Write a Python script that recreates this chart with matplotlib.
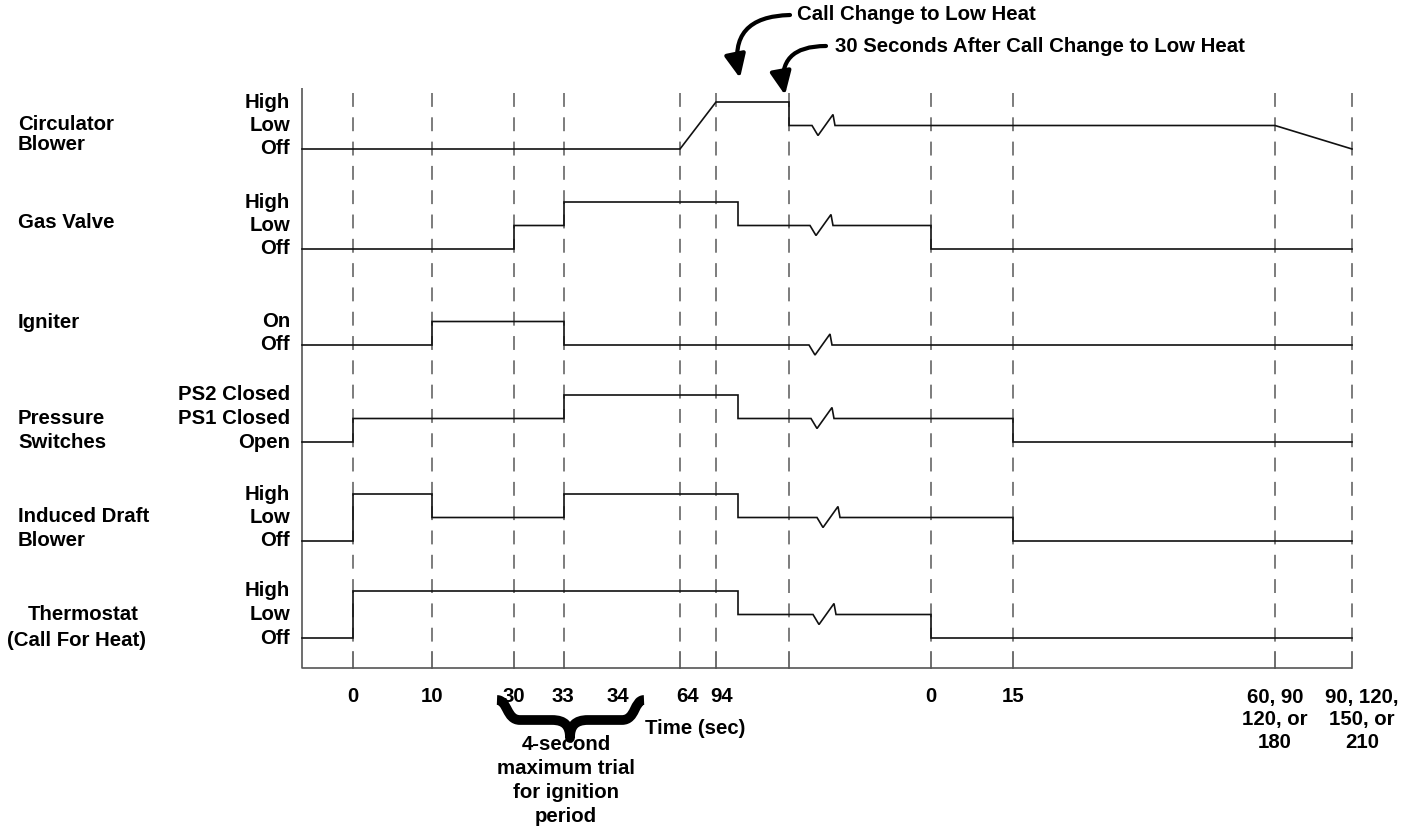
import matplotlib
matplotlib.use("Agg")
import matplotlib.pyplot as plt
from matplotlib.path import Path
from matplotlib.patches import PathPatch

# ---------------- data ----------------
rows = ["Circulator Blower", "Gas Valve", "Igniter", "Pressure Switches",
        "Induced Draft Blower", "Thermostat"]
row_label_lines = [["Circulator", "Blower"], ["Gas Valve"], ["Igniter"],
                   ["Pressure", "Switches"], ["Induced Draft", "Blower"],
                   ["Thermostat", "(Call For Heat)"]]
level_names = [["Off", "Low", "High"], ["Off", "Low", "High"], ["Off", "On"],
               ["Open", "PS1 Closed", "PS2 Closed"], ["Off", "Low", "High"],
               ["Off", "Low", "High"]]

# events along the (non-linear) time axis
events = ["start", "t0", "t10", "t30", "t33", "t64", "t94", "call", "after30",
          "t0b", "t15", "tA", "tB"]
dashed_events = ["t0", "t10", "t30", "t33", "t64", "t94", "after30", "t0b",
                 "t15", "tA", "tB"]
tick_labels = ["0", "10", "30", "33", "34", "64", "94", "0", "15",
               "60, 90\n120, or\n180", "90, 120,\n150, or\n210"]

# waveforms: (event, level); "BRK" marks the time-break zigzag
waves = [
    [("start", 0), ("t64", 0), ("t94", 2), ("after30", 2), ("after30", 1), "BRK",
     ("tA", 1), ("tB", 0)],
    [("start", 0), ("t30", 0), ("t30", 1), ("t33", 1), ("t33", 2), ("call", 2),
     ("call", 1), "BRK", ("t0b", 1), ("t0b", 0), ("tB", 0)],
    [("start", 0), ("t10", 0), ("t10", 1), ("t33", 1), ("t33", 0), "BRK", ("tB", 0)],
    [("start", 0), ("t0", 0), ("t0", 1), ("t33", 1), ("t33", 2), ("call", 2),
     ("call", 1), "BRK", ("t15", 1), ("t15", 0), ("tB", 0)],
    [("start", 0), ("t0", 0), ("t0", 2), ("t10", 2), ("t10", 1), ("t33", 1),
     ("t33", 2), ("call", 2), ("call", 1), "BRK", ("t15", 1), ("t15", 0), ("tB", 0)],
    [("start", 0), ("t0", 0), ("t0", 2), ("call", 2), ("call", 1), "BRK",
     ("t0b", 1), ("t0b", 0), ("tB", 0)],
]

# ---------------- layout ----------------
event_x = dict(zip(events, [302, 353, 432, 514, 564, 680, 716, 738, 789, 931,
                            1013, 1275, 1352]))
tick_label_x = [353, 432, 514, 563, 618, 688, 722, 931, 1013, 1275, 1362]
row_base = [149, 249, 345, 442, 541, 638]
level_step = 23.5
break_x = [812, 810, 809, 811, 817, 813]
row_label_pos = [[(18, 125), (18, 145)], [(18, 222)], [(18, 322)],
                 [(18, 418), (18, 443)], [(18, 517), (18, 540)],
                 [(28, 615), (7, 640)]]

FONT = dict(family="Liberation Sans", fontweight="bold", fontsize=14.7, color="black")
plt.rcParams["lines.scale_dashes"] = False

fig = plt.figure(figsize=(14.14, 8.27), dpi=100)
ax = fig.add_axes([0, 0, 1, 1])
ax.set_xlim(0, 1414)
ax.set_ylim(827, 0)
ax.axis("off")

axis_top, axis_bottom = 88, 668
grey = "#555555"
# frame
ax.plot([302, 302, event_x["tB"]], [axis_top, axis_bottom, axis_bottom],
        color=grey, lw=1.2, solid_capstyle="butt")
for ev in dashed_events:
    x = event_x[ev]
    ax.plot([x, x], [652, axis_bottom], color=grey, lw=1.2)
    ax.plot([x, x], [93, 652], color="#666666", lw=1.2, dashes=(10, 7.5))

# waveforms
for i, wave in enumerate(waves):
    base = row_base[i]
    xs, ys = [], []
    for item in wave:
        if item == "BRK":
            y = ys[-1]
            x0 = break_x[i]
            xs += [x0, x0 + 6, x0 + 21, x0 + 23]
            ys += [y, y + 10, y - 11, y]
        else:
            ev, lev = item
            xs.append(event_x[ev])
            ys.append(base - lev * level_step)
    ax.plot(xs, ys, color="#111111", lw=1.2, solid_joinstyle="miter")

    # level labels
    for lev, name in enumerate(level_names[i]):
        ax.text(290, base - lev * level_step, name, ha="right", va="center", **FONT)
    # row labels
    for line, (lx, ly) in zip(row_label_lines[i], row_label_pos[i]):
        ax.text(lx, ly, line, ha="left", va="center", **FONT)

# time axis labels
for lab, x in zip(tick_labels, tick_label_x):
    for k, line in enumerate(lab.split("\n")):
        ax.text(x, 697 + 23 * k, line, ha="center", va="center", **FONT)
ax.text(645, 729, "Time (sec)", ha="left", va="center", **FONT)

# brace for ignition trial period
verts = [(497, 700), (508, 700), (506, 720), (520, 720), (552, 720),
         (565, 720), (570, 726), (570, 738),
         (570, 726), (575, 720), (588, 720), (622, 720),
         (636, 720), (634, 700), (644, 700)]
codes = [Path.MOVETO, Path.CURVE4, Path.CURVE4, Path.CURVE4, Path.LINETO,
         Path.CURVE4, Path.CURVE4, Path.CURVE4,
         Path.CURVE4, Path.CURVE4, Path.CURVE4, Path.LINETO,
         Path.CURVE4, Path.CURVE4, Path.CURVE4]
ax.add_patch(PathPatch(Path(verts, codes), facecolor="none", edgecolor="black",
                       lw=7, capstyle="butt", joinstyle="round"))
for k, line in enumerate(["4-second", "maximum trial", "for ignition", "period"]):
    ax.text(566, 744 + 24 * k, line, ha="center", va="center", **FONT)

# top annotations
ax.text(797, 15, "Call Change to Low Heat", ha="left", va="center", **FONT)
ax.text(835, 47, "30 Seconds After Call Change to Low Heat", ha="left", va="center", **FONT)
arrow = dict(arrowstyle="-|>,head_length=0.7,head_width=0.32", lw=3,
             color="black", mutation_scale=20, shrinkA=0, shrinkB=0,
             connectionstyle="arc3,rad=0.6")
ax.annotate("", xy=(740, 78), xytext=(790, 15), arrowprops=arrow)
ax.annotate("", xy=(785, 95), xytext=(826, 46), arrowprops=arrow)

fig.savefig("out.png", dpi=100, facecolor="white")
